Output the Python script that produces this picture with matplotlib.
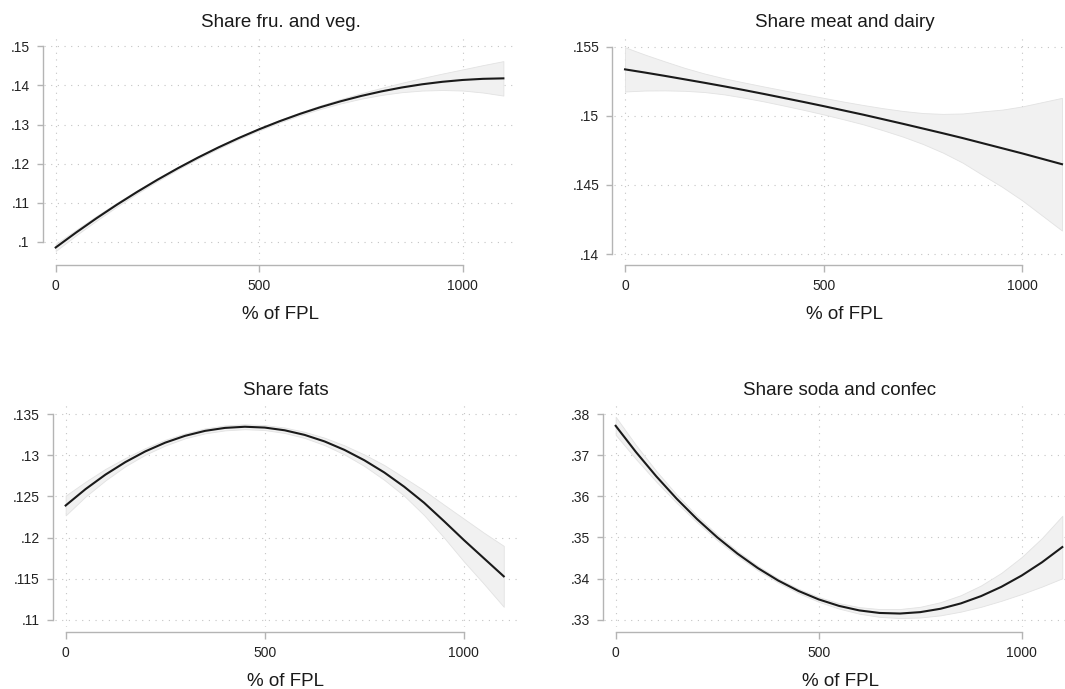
import numpy as np
import matplotlib.pyplot as plt
from matplotlib.ticker import FuncFormatter

plt.rcParams['font.family'] = ['Liberation Sans', 'DejaVu Sans']

# income as % of federal poverty line
fpl = [0, 50, 100, 150, 200, 250, 300, 350, 400, 450, 500, 550,
       600, 650, 700, 750, 800, 850, 900, 950, 1000, 1050, 1100]

# fitted budget shares and half-width of the 95% CI
fv_fit = [.0986, .10241, .10605, .10951, .11279, .1159, .11883, .12159, .12417, .12657, .1288, .13085,
          .13273, .13443, .13595, .1373, .13847, .13947, .14029, .14093, .1414, .14169, .14181]
fv_ci = [.0009, .0007, .0006, .0005, .0004, .00035, .0003, .0003, .0003, .0003, .0003, .00033,
         .00037, .00045, .00055, .0007, .0009, .0012, .0016, .0021, .0027, .0035, .0044]

md_fit = [.15336, .15313, .15289, .15264, .15239, .15213, .15186, .15158, .15129, .151, .1507, .15039,
          .15008, .14975, .14942, .14908, .14874, .14839, .14802, .14765, .14728, .14689, .1465]
md_ci = [.0016, .0013, .00105, .00083, .00067, .00058, .00055, .00054, .00055, .00057, .0006, .00064,
         .0007, .0008, .00093, .00112, .0014, .00178, .0023, .0028, .0034, .0041, .0048]

fat_fit = [.1239, .12589, .12765, .12917, .13047, .13153, .13236, .13296, .13332, .13346, .13336, .13303,
           .13247, .13168, .13065, .12939, .12791, .12618, .12423, .122, .1197, .1175, .1153]
fat_ci = [.0012, .0009, .0007, .0005, .0004, .00035, .0003, .0003, .0003, .0003, .0003, .00033,
          .00037, .00045, .00055, .0007, .0009, .0011, .0015, .002, .0026, .0031, .0037]

soda_fit = [.37714, .37076, .36486, .35944, .3545, .35004, .34606, .34256, .33954, .337, .33494, .33336,
            .33226, .33164, .3315, .33184, .33266, .33396, .33574, .338, .34074, .34396, .34766]
soda_ci = [.0022, .0017, .0013, .001, .0008, .0007, .0006, .00055, .0005, .00052, .00058, .00066,
           .0008, .00095, .0011, .0013, .0016, .002, .0026, .0034, .0045, .0059, .0076]

titles = ["Share fru. and veg.", "Share meat and dairy", "Share fats", "Share soda and confec"]
yticks = [
    [.1, .11, .12, .13, .14, .15],
    [.14, .145, .15, .155],
    [.11, .115, .12, .125, .13, .135],
    [.33, .34, .35, .36, .37, .38],
]
xticks = [0, 500, 1000]

series = [(fv_fit, fv_ci), (md_fit, md_ci), (fat_fit, fat_ci), (soda_fit, soda_ci)]

W, H = 1065, 689
# plot regions in pixels: left, right, top, bottom
boxes = [(44.3, 516.8, 37.3, 260), (613.9, 1075.1, 37.3, 260),
         (54.5, 516.9, 405, 627), (604.3, 1075.7, 405, 626.7)]
ylims = [(.0954, .1523), (.13957, .15568), (.10915, .1361), (.3283, .3822)]

fig = plt.figure(figsize=(W / 100, H / 100), dpi=100)
axis_col = '#b4b4b4'

for i in range(4):
    l, r, t, b = boxes[i]
    ax = fig.add_axes([l / W, (H - b) / H, (r - l) / W, (b - t) / H])
    fit = np.array(series[i][0])
    ci = np.array(series[i][1])

    ax.fill_between(fpl, fit - ci, fit + ci, facecolor='#f1f1f1', edgecolor='#e2e2e2',
                    linewidth=0.6, zorder=2)
    ax.plot(fpl, fit, color='#1a1a1a', linewidth=1.5, zorder=3)

    ax.set_xlim(-28, 1133)
    ax.set_ylim(*ylims[i])
    ax.set_xticks(xticks)
    ax.set_yticks(yticks[i])
    ax.yaxis.set_major_formatter(FuncFormatter(lambda v, p: ('%g' % v).lstrip('0')))

    ax.grid(True, color='#c4c4c4', linestyle=(0, (1, 5)), linewidth=0.8)
    ax.set_axisbelow(True)

    for s in ['top', 'right']:
        ax.spines[s].set_visible(False)
    ax.spines['left'].set_position(('outward', 1.1))
    ax.spines['bottom'].set_position(('outward', 3.6))
    ax.spines['left'].set_bounds(yticks[i][0], yticks[i][-1])
    ax.spines['bottom'].set_bounds(0, 1000)
    for s in ['left', 'bottom']:
        ax.spines[s].set_color(axis_col)
        ax.spines[s].set_linewidth(1.0)

    ax.tick_params(axis='y', length=4.5, width=1.0, color=axis_col, pad=5, labelsize=10, labelcolor='#222222')
    ax.tick_params(axis='x', length=5, width=1.0, color=axis_col, pad=5, labelsize=10, labelcolor='#222222')

    ax.set_title(titles[i], fontsize=13.5, pad=7.5, color='#1a1a1a')
    ax.set_xlabel('% of FPL', fontsize=13.5, labelpad=9.5, color='#1a1a1a')

fig.savefig('out.png', dpi=100)
